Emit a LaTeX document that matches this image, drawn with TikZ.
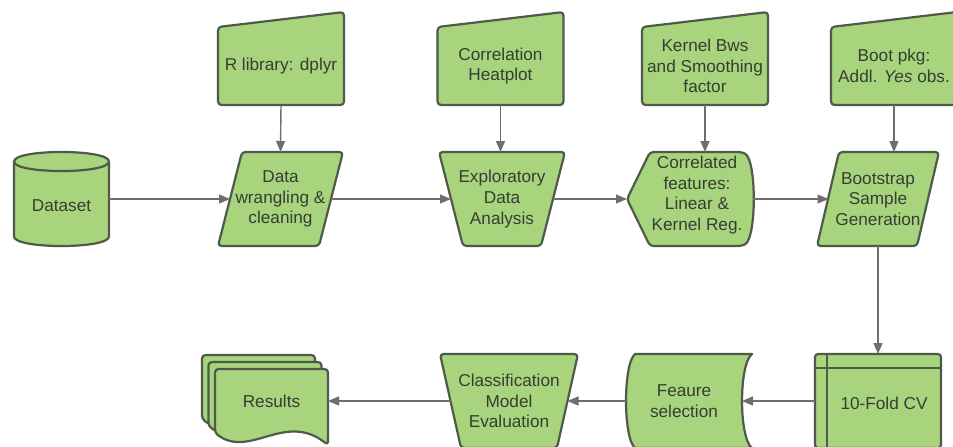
\documentclass[tikz,border=0pt]{standalone}
\usepackage{fontspec}
\setmainfont{Liberation Sans}
\usetikzlibrary{arrows.meta,calc,backgrounds}

\definecolor{boxgreen}{HTML}{A8D47E}
\definecolor{boxedge}{HTML}{4F5A48}
\definecolor{arrowgray}{HTML}{6E6E6E}
\definecolor{textc}{HTML}{363D33}
\newcommand\flowfont{\fontsize{17.2}{20.6}\selectfont}

\begin{document}
\begin{tikzpicture}[x=1pt,y=-1pt,
  holder/.style n args={2}{inner sep=0pt,outer sep=0pt,
    minimum width=#1pt,minimum height=#2pt,align=center,
    font=\flowfont,text=textc},
  label/.style={inner sep=0pt,align=center,font=\flowfont,text=textc},
  shapefill/.style={fill=boxgreen,draw=boxedge,line width=2.2pt,
    line join=round,rounded corners=3.5pt},
  flow/.style={draw=arrowgray,line width=1.4pt,
    -{Triangle[length=11pt,width=9pt]}}]

\useasboundingbox (0,0) rectangle (953,447);
\clip (0,0) rectangle (953,447);

% ---------- top row: manual inputs ----------
\node[holder={126}{78}] (lib)  at (281,66)   {R library: dplyr};
\node[holder={126}{78}] (heat) at (500.5,66) {Correlation\\Heatplot};
\node[holder={126}{78}] (kern) at (705,66)   {Kernel Bws\\and Smoothing\\factor};
\node[holder={126}{78}] (boot) at (894,66)   {Boot pkg:\\Addl. \textit{Yes} obs.};

\foreach \n in {lib,heat,kern,boot}{
  \begin{scope}[on background layer,shift={(\n.north west)}]
    \path[shapefill] (0,78) -- (0,0) -- (126,-15) -- (126,78) -- cycle;
  \end{scope}
}

% ---------- middle row ----------
\node[holder={95}{94}]  (ds)   at (61.5,199) {};
\node[label]            (dst)  at (61.5,206) {Dataset};
\node[holder={101}{94}] (wr)   at (280.5,199) {Data\\wrangling \&\\cleaning};
\node[holder={102}{94}] (eda)  at (502,199)  {Exploratory\\Data\\Analysis};
\node[holder={126}{94}] (corr) at (690,199)  {};
\node[label]            (corrt) at (697,195) {Correlated\\features:\\Linear \&\\Kernel Reg.};
\node[holder={99}{94}]  (bs)   at (878,199)  {Bootstrap\\Sample\\Generation};

% cylinder
\begin{scope}[on background layer,shift={(ds.north west)}]
  \path[shapefill,rounded corners=0pt]
    (0,9.5) -- (0,84.5) .. controls (0,97.2) and (95,97.2) .. (95,84.5)
    -- (95,9.5) .. controls (95,-3.2) and (0,-3.2) .. (0,9.5) -- cycle;
  \draw[draw=boxedge,line width=2.2pt]
    (0,9.5) .. controls (0,22.2) and (95,22.2) .. (95,9.5);
\end{scope}
% parallelogram
\begin{scope}[on background layer,shift={(wr.north west)}]
  \path[shapefill] (-12,94) -- (12,0) -- (113,0) -- (89,94) -- cycle;
\end{scope}
% trapezoid
\begin{scope}[on background layer,shift={(eda.north west)}]
  \path[shapefill] (-12,0) -- (114,0) -- (90,94) -- (12,94) -- cycle;
\end{scope}
% display
\begin{scope}[on background layer,shift={(corr.north west)}]
  \path[shapefill] (0,47) -- (23,0) -- (115,0)
    .. controls (129.7,8) and (129.7,86) .. (115,94) -- (23,94) -- cycle;
\end{scope}
% parallelogram
\begin{scope}[on background layer,shift={(bs.north west)}]
  \path[shapefill] (-11.5,94) -- (10.5,0) -- (110.5,0) -- (88.5,94) -- cycle;
\end{scope}

% ---------- bottom row ----------
\node[holder={126}{94}] (cv)  at (878,401) {};
\node[label]            (cvt) at (884,403) {10-Fold CV};
\node[holder={116}{94}] (fs)  at (684,401) {Feaure\\selection};
\node[holder={117}{94}] (cls) at (509,401) {Classification\\Model\\Evaluation};
\node[holder={113}{64}] (res) at (271.5,401) {Results};

% internal storage
\begin{scope}[on background layer,shift={(cv.north west)}]
  \path[shapefill,rounded corners=3pt] (0,0) rectangle (126,94);
  \draw[draw=boxedge,line width=2.2pt] (12,0) -- (12,94) (0,14) -- (126,14);
\end{scope}
% stored data
\begin{scope}[on background layer,shift={(fs.north west)}]
  \path[shapefill,rounded corners=0pt] (9,0) -- (126,0)
    .. controls (112.7,10) and (112.7,84) .. (126,94) -- (9,94)
    .. controls (-3,84) and (-3,10) .. (9,0) -- cycle;
\end{scope}
% trapezoid
\begin{scope}[on background layer,shift={(cls.north west)}]
  \path[shapefill] (-10.5,0) -- (127.5,0) -- (106.5,94) -- (10.5,94) -- cycle;
\end{scope}
% stacked documents
\begin{scope}[on background layer,shift={(res.north west)}]
  \foreach \d in {13,6.5,0}{
    \path[shapefill,shift={(-\d,-\d-0.5*\d/6.5)}]
      (0,0) -- (113,0) -- (113,76) .. controls (70,42) and (35,90) .. (0,64) -- cycle;
  }
\end{scope}

% ---------- connectors ----------
\draw[flow] (lib.south) -- (wr.north);
\draw[flow] (heat.south) -- (heat.south |- eda.north);
\draw[flow] (kern.south) -- (kern.south |- corr.north);
\draw[flow] (boot.south) -- (boot.south |- bs.north);

\draw[flow] (ds.east) -- (wr.west);
\draw[flow] (wr.east) -- (eda.west);
\draw[flow] (eda.east) -- (corr.west);
\draw[flow] (corr.east) -- (bs.west);

\draw[flow] (bs.south) -- (cv.north);
\draw[flow] (cv.west) -- (fs.east);
\draw[flow] (fs.west) -- (cls.east);
\draw[flow] (cls.west) -- (res.east);
\end{tikzpicture}
\end{document}
